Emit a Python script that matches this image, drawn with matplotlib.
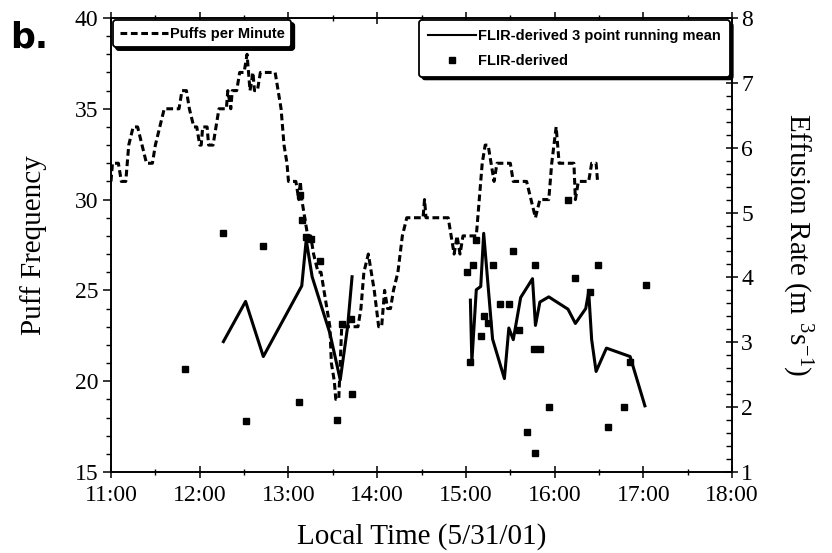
import numpy as np
import matplotlib
matplotlib.use('Agg')
import matplotlib.pyplot as plt
from matplotlib.ticker import MultipleLocator, FuncFormatter
from matplotlib.lines import Line2D

plt.rcParams['font.family'] = ['Liberation Serif', 'DejaVu Serif']
plt.rcParams['mathtext.fontset'] = 'custom'
plt.rcParams['mathtext.rm'] = 'Liberation Serif'
plt.rcParams['mathtext.it'] = 'Liberation Serif'

# Puffs per minute (left axis)
puff_time = ['11:00', '11:01', '11:05', '11:07', '11:10', '11:12', '11:15', '11:18', '11:21', '11:24',
             '11:28', '11:30', '11:33', '11:36', '11:40', '11:46', '11:48', '11:51', '11:53', '11:56',
             '11:58', '12:00', '12:01', '12:02', '12:05', '12:06', '12:09', '12:11', '12:13', '12:18',
             '12:19', '12:21', '12:22', '12:25', '12:27', '12:30', '12:32', '12:34', '12:36', '12:37',
             '12:39', '12:41', '12:51', '12:53', '12:55', '12:57', '12:59', '13:00', '13:05', '13:07',
             '13:08', '13:09', '13:11', '13:13', '13:15', '13:17', '13:20', '13:22', '13:24', '13:26',
             '13:28', '13:29', '13:31', '13:32', '13:34', '13:35', '13:36', '13:47', '13:49', '13:51',
             '13:54', '13:56', '13:58', '14:01', '14:03', '14:05', '14:07', '14:09', '14:11', '14:14',
             '14:17', '14:20', '14:31', '14:32', '14:33', '14:48', '14:50', '14:52', '14:54', '14:56',
             '14:58', '15:07', '15:09', '15:11', '15:13', '15:15', '15:17', '15:19', '15:21', '15:30',
             '15:32', '15:41', '15:44', '15:47', '15:50', '15:56', '15:58', '16:01', '16:03', '16:13',
             '16:14', '16:16', '16:23', '16:25', '16:28', '16:29', '16:30']
puff_rate = [31, 32, 32, 31, 31, 33, 34, 34, 33, 32,
             32, 33, 34, 35, 35, 35, 36, 36, 35, 34,
             34, 33, 33, 34, 34, 33, 33, 34, 35, 35,
             36, 35, 36, 36, 37, 37, 38, 36, 37, 36,
             36, 37, 37, 36, 35, 33, 32, 31, 31, 30,
             31, 30, 29, 28, 28, 27, 26, 26, 25, 24,
             23, 21, 20, 19, 19, 21, 23, 23, 24, 26,
             27, 26, 25, 23, 23, 25, 24, 24, 25, 26,
             28, 29, 29, 30, 29, 29, 28, 27, 28, 27,
             28, 28, 30, 32, 33, 33, 32, 31, 32, 32,
             31, 31, 30, 29, 30, 30, 32, 34, 32, 32,
             30, 31, 31, 32, 32, 31, 31]

# FLIR-derived 3 point running mean (right axis), two runs
mean1_time = ['12:16', '12:31', '12:43', '13:09', '13:12', '13:16', '13:28', '13:35', '13:40', '13:43']
mean1_rate = [3.01, 3.63, 2.78, 3.87, 4.58, 4.01, 3.14, 2.42, 3.24, 4.01]
mean2_time = ['15:03', '15:04', '15:07', '15:10', '15:12', '15:18', '15:26', '15:29', '15:32', '15:37',
              '15:45', '15:47', '15:50', '15:56', '16:09', '16:14', '16:21', '16:23', '16:25', '16:28',
              '16:35', '16:51', '17:01']
mean2_rate = [3.65, 2.70, 3.81, 3.86, 4.68, 3.05, 2.44, 3.22, 3.04, 3.69,
              3.98, 3.26, 3.62, 3.70, 3.51, 3.29, 3.52, 3.78, 3.04, 2.55,
              2.91, 2.78, 2.02]

# FLIR-derived effusion rates
flir_time = ['11:50', '12:16', '12:31', '12:43', '13:07', '13:08', '13:09', '13:12', '13:15', '13:21',
             '13:33', '13:36', '13:42', '13:43', '15:01', '15:03', '15:05', '15:07', '15:10', '15:12',
             '15:15', '15:18', '15:23', '15:29', '15:32', '15:36', '15:41', '15:46', '15:47', '15:47',
             '15:50', '15:56', '16:09', '16:14', '16:24', '16:29', '16:36', '16:47', '16:51', '17:02']
flir_rate = [2.59, 4.68, 1.79, 4.48, 2.08, 5.27, 4.89, 4.63, 4.59, 4.25,
             1.80, 3.28, 3.36, 2.20, 4.09, 2.70, 4.19, 4.58, 3.09, 3.40,
             3.29, 4.19, 3.59, 3.59, 4.40, 3.19, 1.61, 2.90, 4.19, 1.30,
             2.90, 2.00, 5.19, 3.99, 3.78, 4.19, 1.70, 2.00, 2.70, 3.88]


def hours(stamps):
    return np.array([int(s.split(':')[0]) + int(s.split(':')[1]) / 60 for s in stamps])


fig = plt.figure(figsize=(8.32, 5.53), dpi=100)
ax = fig.add_axes([0.1334, 0.1465, 0.880 - 0.1334, 0.9675 - 0.1465])
ax2 = ax.twinx()

puff_line, = ax.plot(hours(puff_time), puff_rate, color='black', lw=2.2,
                     linestyle=(0, (2.2, 1.2)), label='Puffs per Minute')
mean_line, = ax2.plot(hours(mean1_time), mean1_rate, color='black', lw=2.2,
                      label='FLIR-derived 3 point running mean')
ax2.plot(hours(mean2_time), mean2_rate, color='black', lw=2.2)
pts, = ax2.plot(hours(flir_time), flir_rate, linestyle='none', marker='s',
                markersize=4.5, color='black', label='FLIR-derived')

ax.set_xlim(11, 18)
ax.set_ylim(15, 40)
ax2.set_ylim(1, 8)

ax.xaxis.set_major_locator(MultipleLocator(1))
ax.xaxis.set_minor_locator(MultipleLocator(0.5))
ax.xaxis.set_major_formatter(FuncFormatter(lambda v, p: '%d:00' % int(round(v))))
ax.yaxis.set_major_locator(MultipleLocator(5))
ax.yaxis.set_minor_locator(MultipleLocator(1))
ax2.yaxis.set_major_locator(MultipleLocator(1))
ax2.yaxis.set_minor_locator(MultipleLocator(0.2))

ax.tick_params(axis='x', which='major', direction='inout', length=9, width=1.1,
               top=True, labelsize=17, pad=5)
ax.tick_params(axis='x', which='minor', direction='inout', length=5, width=1.0, top=True)
ax.tick_params(axis='y', which='major', direction='out', length=6, width=1.1, labelsize=17, pad=3)
ax.tick_params(axis='y', which='minor', direction='out', length=3.5, width=1.0)
ax2.tick_params(axis='y', which='major', direction='inout', length=9, width=1.1, labelsize=17, pad=2)
ax2.tick_params(axis='y', which='minor', direction='in', length=4, width=1.0)

for a in (ax, ax2):
    for sp in a.spines.values():
        sp.set_linewidth(1.2)

ax.set_xlabel('Local Time (5/31/01)', fontsize=21, labelpad=12)
ax.set_ylabel('Puff Frequency', fontsize=21, labelpad=20)
ax2.set_ylabel('Effusion Rate (m $^{3}$s$^{-1}$)', fontsize=21, rotation=270, labelpad=44)

leg_font = {'family': 'Liberation Sans', 'weight': 'bold', 'size': 10.5}
leg1 = ax2.legend(handles=[puff_line], loc='upper left', bbox_to_anchor=(0.0, 1.0),
                  borderaxespad=0.15, prop=leg_font, handlelength=3.3, handletextpad=0.15,
                  borderpad=0.45, fancybox=True, framealpha=1, edgecolor='black',
                  shadow={'color': 'black', 'alpha': 1})
leg1.get_frame().set_linewidth(1.3)
ax2.add_artist(leg1)

mean_handle = Line2D([], [], color='black', lw=1.5)
leg2 = ax2.legend(handles=[mean_handle, pts], labels=[mean_line.get_label(), pts.get_label()],
                  loc='upper right', bbox_to_anchor=(1.0, 1.0), borderaxespad=0.15,
                  prop=leg_font, handlelength=3.3, handletextpad=0.15, borderpad=0.6,
                  labelspacing=0.75, numpoints=1, fancybox=True, framealpha=1,
                  edgecolor='black', shadow={'color': 'black', 'alpha': 1})
leg2.get_frame().set_linewidth(1.3)

fig.text(0.012, 0.915, 'b.', fontsize=25, fontweight='heavy', family='DejaVu Sans')

fig.savefig('out.png', dpi=100)
